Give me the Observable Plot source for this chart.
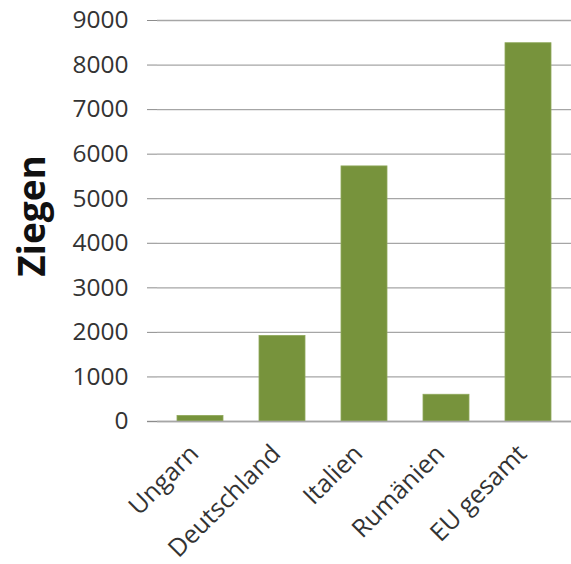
<!DOCTYPE html>
<html>
<head>
<meta charset="utf-8">
<script src="https://cdn.jsdelivr.net/npm/d3@7"></script>
<script src="https://cdn.jsdelivr.net/npm/@observablehq/plot@0.6"></script>
<style>
  html, body { margin: 0; padding: 0; background: #fff; }
  #chart svg { display: block; }
</style>
</head>
<body>
<div id="chart"></div>
<script>
const categories = ["Ungarn", "Deutschland", "Italien", "Rumänien", "EU gesamt"];
const values = [125, 1920, 5725, 600, 8490];
const yTicks = [0, 1000, 2000, 3000, 4000, 5000, 6000, 7000, 8000, 9000];
const yLabel = "Ziegen";

const data = categories.map((c, i) => ({category: c, value: values[i]}));

const font = "'Open Sans', sans-serif";

const chart = Plot.plot({
  width: 571,
  height: 564,
  marginLeft: 157,
  marginRight: 0,
  marginTop: 20,
  marginBottom: 143,
  style: {fontFamily: font, background: "#fff", color: "#333"},
  x: {domain: categories, paddingInner: 0.434, paddingOuter: 0.217, align: 0.5},
  y: {domain: [0, 9000]},
  marks: [
    Plot.gridY(yTicks, {stroke: "#a6a6a6", strokeOpacity: 1, strokeWidth: 1.3}),
    Plot.barY(data, {x: "category", y: "value", fill: "#77933c", stroke: "#8fa85a", strokeWidth: 0.8}),
    Plot.ruleY([0], {stroke: "#a6a6a6", strokeWidth: 1.5, insetLeft: -10}),
    Plot.axisY({
      ticks: yTicks,
      tickSize: 10,
      tickPadding: 19,
      tickFormat: d => String(d),
      fontSize: 24.5,
      stroke: "#8c8c8c",
      fill: "#333",
      label: null
    }),
    Plot.ruleX([0], {x: () => null, frameAnchor: "left", stroke: "#8c8c8c", strokeWidth: 1.3}),
    Plot.axisX({
      tickSize: 0,
      tickRotate: -45,
      tickPadding: 28,
      dx: -6,
      fontSize: 25,
      fill: "#333",
      label: null
    }),
    Plot.text([yLabel], {
      text: d => d,
      frameAnchor: "left",
      textAnchor: "middle",
      dx: -124,
      dy: -5,
      rotate: -90,
      fontSize: 37,
      fontWeight: "bold",
      fill: "#111"
    })
  ]
});
document.getElementById("chart").appendChild(chart);
</script>
</body>
</html>
